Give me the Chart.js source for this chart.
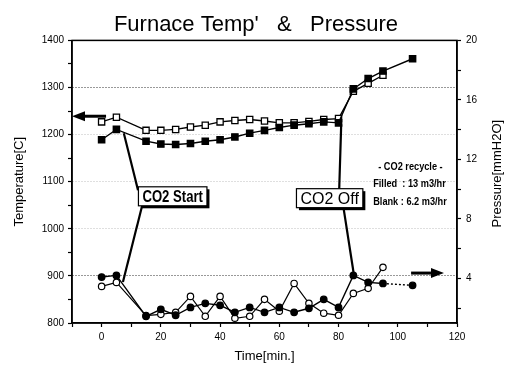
<!DOCTYPE html>
<html>
<head>
<meta charset="utf-8">
<script src="https://cdn.jsdelivr.net/npm/chart.js@4/dist/chart.umd.min.js"></script>
<style>
  html, body { margin: 0; padding: 0; background: #fff; }
  #wrap { width: 512px; height: 368px; }
</style>
</head>
<body>
<div id="wrap"><canvas id="chart"></canvas></div>
<script>
// time [min.]
const timesFilled = [0, 5, 15, 20, 25, 30, 35, 40, 45, 50, 55, 60, 65, 70, 75, 80, 85, 90, 95, 105]
const timesBlank = [0, 5, 15, 20, 25, 30, 35, 40, 45, 50, 55, 60, 65, 70, 75, 80, 85, 90, 95]

// temperature [C]
const tempFilled = [1189, 1211, 1186, 1180, 1179, 1181, 1186, 1189, 1195, 1203, 1209, 1215, 1220, 1223, 1227, 1225, 1297, 1319, 1335, 1361]
const tempBlank = [1227, 1237, 1209, 1209, 1211, 1216, 1220, 1227, 1230, 1232, 1229, 1225, 1225, 1228, 1232, 1234, 1292, 1309, 1326]

// pressure [mmH2O]
const pressFilled = [4.09, 4.2, 1.45, 1.92, 1.52, 2.05, 2.32, 2.19, 1.72, 2.05, 1.72, 2.05, 1.72, 1.99, 2.59, 2.05, 4.2, 3.73, 3.66, 3.53]
const pressBlank = [3.46, 3.73, 1.5, 1.58, 1.72, 2.79, 1.45, 2.79, 1.32, 1.45, 2.59, 1.79, 3.66, 2.32, 1.66, 1.52, 2.99, 3.33, 4.74]

// tick labels
const timeLabels = [0, 20, 40, 60, 80, 100, 120]
const tempLabels = [800, 900, 1000, 1100, 1200, 1300, 1400]
const pressLabels = [4, 8, 12, 16, 20]

// annotations, in (time, temperature) units
const boxes = [
  { text: 'CO2 Start', t: 24, T: 1069, font: 'bold 16px "Liberation Sans"', squeeze: 0.82,
    lines: [[12.3, 1082, 7.5, 1203], [14, 1057, 7.2, 887]] },
  { text: 'CO2 Off', t: 77, T: 1065, font: '16px "Liberation Sans"', squeeze: 1,
    lines: [[80.2, 1078, 80.9, 1222], [81.5, 1052, 85.2, 902]] }
]
const notes = [
  { text: '- CO2 recycle -', t: 93.4, T: 1131 },
  { text: 'Filled  : 13 m3/hr', t: 91.7, T: 1095 },
  { text: 'Blank : 6.2 m3/hr', t: 91.7, T: 1057 }
]
const arrows = [
  { from: 1.5, to: -10, T: 1239 },
  { from: 104.5, to: 115.6, T: 906 }
]

const pts = (xs, ys) => xs.map((x, i) => ({ x: x, y: ys[i] }))

Chart.defaults.font.family = '"Liberation Sans", Arial, sans-serif'
Chart.defaults.color = '#000'

function drawArrow (ctx, x0, y, x1) {
  const dir = Math.sign(x1 - x0)
  const head = 13
  ctx.lineWidth = 3
  ctx.beginPath()
  ctx.moveTo(x0, y)
  ctx.lineTo(x1 - dir * head, y)
  ctx.stroke()
  ctx.beginPath()
  ctx.moveTo(x1, y)
  ctx.lineTo(x1 - dir * head, y - 5)
  ctx.lineTo(x1 - dir * head, y + 5)
  ctx.closePath()
  ctx.fill()
}

const overlay = {
  id: 'overlay',
  afterDatasetsDraw (chart) {
    const { ctx, chartArea: a } = chart
    const px = v => chart.scales.x.getPixelForValue(v)
    const py = v => chart.scales.yT.getPixelForValue(v)
    ctx.save()
    ctx.strokeStyle = '#000'
    ctx.fillStyle = '#000'

    // frame
    ctx.lineWidth = 1.5
    ctx.strokeRect(a.left, a.top, a.right - a.left, a.bottom - a.top)

    arrows.forEach(ar => drawArrow(ctx, px(ar.from), py(ar.T), px(ar.to)))

    // callout boxes
    boxes.forEach(b => {
      ctx.lineWidth = 2.2
      b.lines.forEach(l => {
        ctx.beginPath()
        ctx.moveTo(px(l[0]), py(l[1]))
        ctx.lineTo(px(l[2]), py(l[3]))
        ctx.stroke()
      })
      ctx.font = b.font
      const w = ctx.measureText(b.text).width * b.squeeze + 8
      const h = 19
      const cx = px(b.t)
      const cy = py(b.T)
      ctx.fillStyle = '#000'
      ctx.fillRect(cx - w / 2 + 2.5, cy - h / 2 + 2.5, w, h)
      ctx.fillStyle = '#fff'
      ctx.fillRect(cx - w / 2, cy - h / 2, w, h)
      ctx.lineWidth = 1.2
      ctx.strokeRect(cx - w / 2, cy - h / 2, w, h)
      ctx.fillStyle = '#000'
      ctx.save()
      ctx.translate(cx, cy + 1)
      ctx.scale(b.squeeze, 1)
      ctx.textAlign = 'center'
      ctx.textBaseline = 'middle'
      ctx.fillText(b.text, 0, 0)
      ctx.restore()
    })

    // recycle notes
    ctx.font = 'bold 10px "Liberation Sans"'
    ctx.textBaseline = 'middle'
    ctx.textAlign = 'left'
    notes.forEach(n => {
      ctx.save()
      ctx.translate(px(n.t), py(n.T))
      ctx.scale(0.92, 1)
      ctx.fillText(n.text, 0, 0)
      ctx.restore()
    })

    // right axis title, reading upward like the left one
    ctx.save()
    ctx.font = '13px "Liberation Sans"'
    ctx.textAlign = 'center'
    ctx.textBaseline = 'middle'
    ctx.translate(chart.width - 15, (a.top + a.bottom) / 2 - 8)
    ctx.rotate(-Math.PI / 2)
    ctx.fillText('Pressure[mmH2O]', 0, 0)
    ctx.restore()

    ctx.restore()
  }
}

const tempGrid = ctx => {
  const v = ctx.tick && ctx.tick.value
  if (v === 900 || v === 1300) return 'rgba(0,0,0,0.8)'
  if (v === 1000 || v === 1100 || v === 1200) return 'rgba(0,0,0,0.25)'
  return 'rgba(0,0,0,0)'
}

new Chart(document.getElementById('chart'), {
  type: 'line',
  data: {
    datasets: [
      {
        label: 'Temp filled',
        data: pts(timesFilled, tempFilled),
        yAxisID: 'yT',
        borderColor: '#000',
        borderWidth: 1.4,
        pointStyle: 'rect',
        pointRadius: 4.4,
        pointBackgroundColor: '#000',
        pointBorderColor: '#000'
      },
      {
        label: 'Temp blank',
        data: pts(timesBlank, tempBlank),
        yAxisID: 'yT',
        borderColor: '#000',
        borderWidth: 1.4,
        pointStyle: 'rect',
        pointRadius: 4.4,
        pointBackgroundColor: '#fff',
        pointBorderColor: '#000',
        pointBorderWidth: 1.3
      },
      {
        label: 'Pressure filled',
        data: pts(timesFilled, pressFilled),
        yAxisID: 'yP',
        borderColor: '#000',
        borderWidth: 1.4,
        pointStyle: 'circle',
        pointRadius: 3.2,
        pointBackgroundColor: '#000',
        pointBorderColor: '#000',
        segment: { borderDash: c => c.p0.parsed.x >= 95 ? [2, 2] : undefined }
      },
      {
        label: 'Pressure blank',
        data: pts(timesBlank, pressBlank),
        yAxisID: 'yP',
        borderColor: '#000',
        borderWidth: 1.2,
        pointStyle: 'circle',
        pointRadius: 3.2,
        pointBackgroundColor: '#fff',
        pointBorderColor: '#000',
        pointBorderWidth: 1.2
      }
    ]
  },
  options: {
    responsive: true,
    maintainAspectRatio: false,
    animation: false,
    layout: { padding: 0 },
    plugins: {
      legend: { display: false },
      tooltip: { enabled: false },
      title: {
        display: true,
        text: "Furnace Temp'   &   Pressure",
        color: '#000',
        font: { size: 22, weight: 'normal' },
        padding: { top: 12, bottom: 2 }
      }
    },
    scales: {
      x: {
        type: 'linear',
        position: 'bottom',
        min: -10,
        max: 120,
        afterFit: s => { s.height = 45 },
        ticks: {
          stepSize: 10,
          autoSkip: false,
          maxRotation: 0,
          padding: 4,
          font: { size: 10 },
          callback: v => timeLabels.includes(v) ? v : ''
        },
        grid: { drawOnChartArea: false, tickLength: 4, tickColor: '#000', tickWidth: 1.2 },
        border: { color: '#000', width: 1.5 },
        title: { display: true, text: 'Time[min.]', font: { size: 13 }, padding: { top: 0, bottom: 4 } }
      },
      yT: {
        position: 'left',
        min: 800,
        max: 1400,
        afterFit: s => { s.width = 72 },
        ticks: {
          stepSize: 50,
          autoSkip: false,
          padding: 4,
          font: { size: 10 },
          callback: v => tempLabels.includes(v) ? v : ''
        },
        grid: { color: tempGrid, lineWidth: 1, tickLength: 4, tickColor: '#000', tickWidth: 1.2 },
        border: { color: '#000', width: 1.5, dash: [1, 2] },
        title: { display: true, text: 'Temperature[C]', font: { size: 13 }, padding: { top: 12, bottom: 0 } }
      },
      yP: {
        position: 'right',
        min: 1,
        max: 20,
        afterFit: s => { s.width = 55 },
        afterBuildTicks: s => {
          const t = []
          for (let v = 2; v <= 20; v += 2) t.push({ value: v })
          s.ticks = t
        },
        ticks: {
          autoSkip: false,
          padding: 5,
          font: { size: 10 },
          callback: v => pressLabels.includes(v) ? v : ''
        },
        grid: { drawOnChartArea: false, tickLength: 4, tickColor: '#000', tickWidth: 1.2 },
        border: { color: '#000', width: 1.5 }
      }
    }
  },
  plugins: [overlay]
})
</script>
</body>
</html>
